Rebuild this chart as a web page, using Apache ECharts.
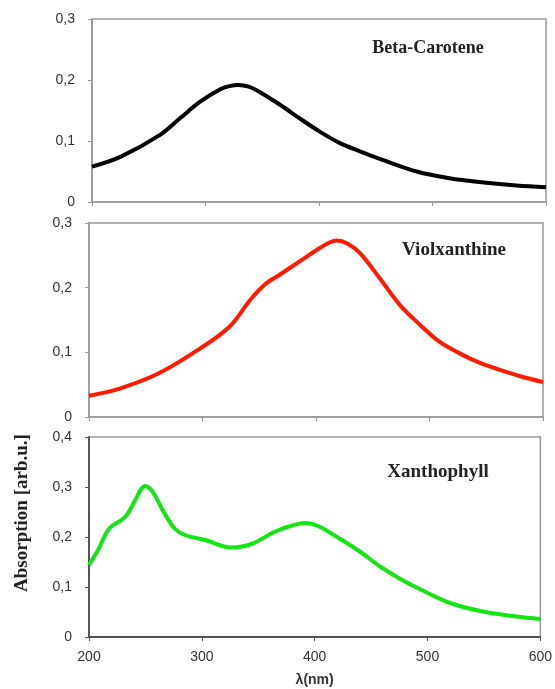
<!DOCTYPE html>
<html>
<head>
<meta charset="utf-8">
<script src="https://cdn.jsdelivr.net/npm/echarts@6/dist/echarts.min.js"></script>
<style>
  html, body { margin: 0; padding: 0; background: #fff; }
  #chart { width: 555px; height: 689px; }
</style>
</head>
<body>
<div id="chart"></div>
<script>
// wavelength (nm) / absorption readings for each pigment
const betaWavelength = [200, 225, 260, 278, 295, 313, 321, 329, 338, 348, 366, 383, 401, 418, 436, 456, 486, 515, 545, 574, 600];
const betaAbsorption = [0.058, 0.074, 0.110, 0.138, 0.164, 0.185, 0.190, 0.192, 0.189, 0.180, 0.159, 0.137, 0.115, 0.097, 0.083, 0.069, 0.050, 0.039, 0.032, 0.027, 0.024];

const violWavelength = [200, 227, 262, 298, 324, 342, 355, 368, 385, 403, 411, 418, 428, 439, 456, 474, 492, 509, 527, 544, 562, 580, 600];
const violAbsorption = [0.033, 0.044, 0.068, 0.106, 0.140, 0.181, 0.205, 0.220, 0.240, 0.261, 0.269, 0.273, 0.268, 0.253, 0.215, 0.173, 0.142, 0.116, 0.098, 0.084, 0.073, 0.063, 0.054];

const xanthWavelength = [200, 208, 218, 232, 241, 246, 250, 254, 258, 267, 276, 285, 303, 326, 344, 365, 380, 392, 403, 422, 440, 458, 476, 493, 520, 549, 579, 600];
const xanthAbsorption = [0.144, 0.174, 0.217, 0.240, 0.274, 0.295, 0.302, 0.297, 0.285, 0.247, 0.217, 0.204, 0.194, 0.179, 0.186, 0.211, 0.223, 0.228, 0.222, 0.197, 0.171, 0.141, 0.116, 0.096, 0.068, 0.051, 0.041, 0.036];

const panelNames = ["Beta-Carotene", "Violxanthine", "Xanthophyll"];
const panelMax = [0.3, 0.3, 0.4];
const xTicks = [200, 300, 400, 500, 600];

const pairs = (xs, ys) => xs.map((x, i) => [x, ys[i]]);
const commaLabel = (v) => (v === 0 ? "0" : v.toFixed(1).replace(".", ","));

const chart = echarts.init(document.getElementById("chart"));

const grids = [
  { left: 92, top: 19, width: 454, height: 183 },
  { left: 89, top: 223, width: 454, height: 194 },
  { left: 89, top: 437, width: 452, height: 200 },
];

const xAxes = grids.map((g, i) => ({
  type: "value",
  gridIndex: i,
  min: xTicks[0],
  max: xTicks[xTicks.length - 1],
  interval: 100,
  axisLine: { lineStyle: { color: i === 2 ? "#555" : "#999", width: i === 2 ? 2 : 1.5 } },
  axisTick: { show: true, length: 4, lineStyle: { color: i === 2 ? "#555" : "#999" } },
  axisLabel: {
    show: i === 2,
    color: "#333",
    fontFamily: "Arial, Liberation Sans, sans-serif",
    fontSize: 14,
    margin: 13,
  },
  splitLine: { show: false },
  name: i === 2 ? "λ(nm)" : "",
  nameLocation: "middle",
  nameGap: 36,
  nameTextStyle: {
    color: "#333",
    fontFamily: "Arial, Liberation Sans, sans-serif",
    fontSize: 14,
    fontWeight: "bold",
  },
}));

const yAxes = grids.map((g, i) => ({
  type: "value",
  gridIndex: i,
  min: 0,
  max: panelMax[i],
  interval: 0.1,
  axisLine: { show: true, lineStyle: { color: i === 2 ? "#555" : "#999", width: i === 2 ? 2 : 1.5 } },
  axisTick: { show: true, length: 4, lineStyle: { color: i === 2 ? "#555" : "#999" } },
  axisLabel: {
    color: "#333",
    fontFamily: "Arial, Liberation Sans, sans-serif",
    fontSize: 14,
    margin: 17,
    formatter: commaLabel,
  },
  splitLine: { show: false },
}));

const lineSeries = (i, data, color) => ({
  type: "line",
  xAxisIndex: i,
  yAxisIndex: i,
  data: data,
  smooth: 0.35,
  showSymbol: false,
  lineStyle: { color: color, width: 4 },
  animation: false,
});

const titleFont = {
  fill: "#222",
  fontFamily: "Liberation Serif, Times New Roman, serif",
  fontSize: 19,
  fontWeight: "bold",
};

const option = {
  backgroundColor: "#fff",
  grid: grids.map((g) => ({ ...g, show: true, borderColor: "#999", borderWidth: 1.5 })),
  xAxis: xAxes,
  yAxis: yAxes,
  series: [
    lineSeries(0, pairs(betaWavelength, betaAbsorption), "#000"),
    lineSeries(1, pairs(violWavelength, violAbsorption), "#ff1a00"),
    lineSeries(2, pairs(xanthWavelength, xanthAbsorption), "#14e614"),
  ],
  graphic: [
    { type: "text", x: 428, y: 48, style: { ...titleFont, fontSize: 18, text: panelNames[0], align: "center", verticalAlign: "middle" } },
    { type: "text", x: 454, y: 250, style: { ...titleFont, text: panelNames[1], align: "center", verticalAlign: "middle" } },
    { type: "text", x: 438, y: 472, style: { ...titleFont, text: panelNames[2], align: "center", verticalAlign: "middle" } },
    {
      type: "text",
      x: 22,
      y: 513,
      rotation: Math.PI / 2,
      style: {
        ...titleFont,
        text: "Absorption [arb.u.]",
        align: "center",
        verticalAlign: "middle",
      },
    },
  ],
};

chart.setOption(option);
</script>
</body>
</html>
